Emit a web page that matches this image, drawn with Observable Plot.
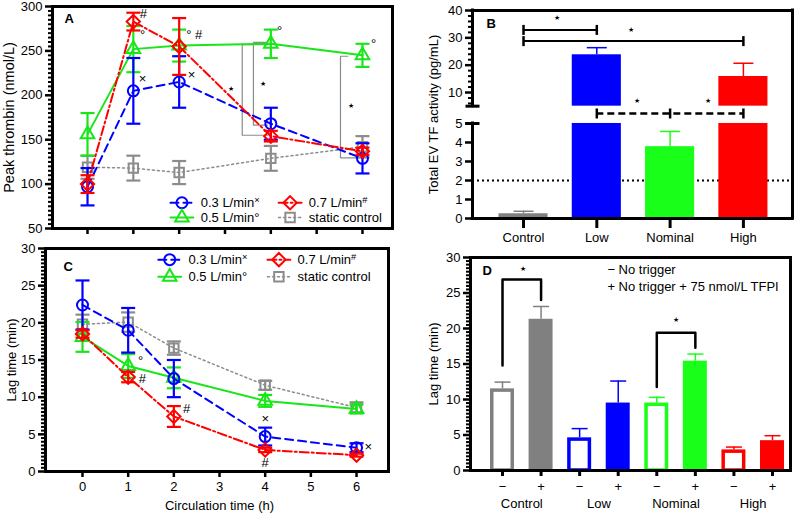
<!DOCTYPE html>
<html><head><meta charset="utf-8">
<script src="https://cdn.jsdelivr.net/npm/d3@7"></script>
<script src="https://cdn.jsdelivr.net/npm/@observablehq/plot@0.6"></script>
<style>
html,body{margin:0;padding:0;background:#fff;}
#fig{position:relative;width:800px;height:513px;overflow:hidden;}
</style></head><body><div id="fig"></div>
<script>
// ---------------- DATA ----------------
const hours = [0, 1, 2, 4, 6];
const hourTicks = [0, 1, 2, 3, 4, 5, 6];

// Panel A: peak thrombin (nmol/L)
const peak03 = [97, 205, 215, 168, 129];
const peak03Err = [21, 37, 29, 18, 17];
const peak05 = [156, 252, 256, 258, 245];
const peak05Err = [24, 26, 18, 16, 13];
const peak07 = [100, 283, 255, 154, 137];
const peak07Err = [10, 10, 32, 6, 4];
const peakStatic = [119, 118, 113, 129, 142];
const peakStaticErr = [13, 14, 13, 14, 12];

// Panel C: lag time (min)
const lag03 = [22.4, 19.0, 12.5, 4.7, 3.2];
const lag03Err = [3.3, 3.0, 2.5, 1.2, 0.6];
const lag05 = [18.1, 14.2, 12.6, 9.5, 8.4];
const lag05Err = [2.0, 1.6, 1.4, 0.8, 0.6];
const lag07 = [18.5, 12.7, 7.4, 2.9, 2.2];
const lag07Err = [0.5, 0.7, 1.4, 0.3, 0.2];
const lagStatic = [19.8, 20.1, 16.6, 11.6, 8.6];
const lagStaticErr = [1.3, 1.3, 0.9, 0.6, 0.7];

const seriesLabels = ["0.3 L/min×", "0.7 L/min#", "0.5 L/min°", "static control"];

// Panel B: total EV TF activity (pg/mL)
const tfCategories = ["Control", "Low", "Nominal", "High"];
const tfValues = [0.25, 23.8, 3.78, 15.85];
const tfErr = [0.13, 2.6, 0.8, 4.85];
const tfThreshold = 2;
const breakLo = 5, breakHi = 5.001;
const tfMajorTicks = [0, 1, 2, 3, 4, 5, 10, 20, 30, 40];

// Panel D: lag time (min)
const lagGroups = ["Control", "Low", "Nominal", "High"];
const lagNoTrigger = [11.5, 4.6, 9.5, 2.9];
const lagNoTriggerErr = [0.95, 1.3, 0.8, 0.4];
const lagTFPI = [21.3, 9.5, 15.4, 4.2];
const lagTFPIErr = [1.8, 3.1, 1.0, 0.7];
const signLabels = ["−", "+"];
const legendDText = ["− No trigger", "+ No trigger + 75 nmol/L TFPI"];

// Annotations (data coordinates)
const annAX = [1.22, 1.2, 2.33, 1.2, 2.27, 4.19, 6.24];
const annAY = [292, 268.6, 268.6, 218, 222.6, 273, 258.5];
const annAText = ["#", "°", "° #", "×", "×", "°", "°"];
const starAX = [3.14, 3.82, 5.76];
const starAY = [207, 212.6, 188];
const bracketsA = [
  [[3.93, 257], [3.376, 257], [3.376, 155], [3.93, 155]],
  [[3.93, 259.5], [3.62, 259.5], [3.62, 166.5], [3.93, 166.5]],
  [[5.68, 244], [5.52, 244], [5.52, 129.6], [5.93, 129.6]]
];
const legAX = [1.81, 4.17, 1.81, 4.17];
const legAY = [79, 79, 62.3, 62.3];

const annCX = [1.27, 1.31, 2.28, 4.0, 4.0, 6.26];
const annCY = [14.9, 12.45, 8.44, 7.1, 1.2, 3.35];
const annCText = ["°", "#", "#", "×", "#", "×"];
const legCX = [1.66, 4.05, 1.66, 4.05];
const legCY = [28.5, 28.5, 26.2, 26.2];

const sigBFrom = [0, 0], sigBTo = [1, 3], sigBY = [32.9, 28.8];
const sigBDashed = [1, 2, 3];
const starBX = [0.46, 1.46, 1.55, 2.52], starBY = [37.4, 33, 7.07, 7.07];

const bracketsD = [
  [[0, 14.8], [0, 26.9], [1, 26.9], [1, 24.0]],
  [[4, 11.75], [4, 19.4], [5, 19.4], [5, 17.3]]
];
const starDX = [0.52, 4.51], starDY = [28.4, 21.2];
const legDX = [2.72, 2.72], legDY = [28.3, 25.8];

// ---------------- HELPERS ----------------
const FONT = '"Liberation Sans", Arial, Helvetica, sans-serif';
const baseStyle = {fontFamily: FONT, fontSize: "13px", background: "transparent", overflow: "visible", color: "black"};
const fig = document.getElementById("fig");
const svgNS = "http://www.w3.org/2000/svg";
const hCap = {draw(ctx, size) { const r = Math.sqrt(size / Math.PI); ctx.moveTo(-r, 0); ctx.lineTo(r, 0); }};
const vCap = {draw(ctx, size) { const r = Math.sqrt(size / Math.PI); ctx.moveTo(0, -r); ctx.lineTo(0, r); }};

function supify(svg) {
  svg.querySelectorAll("text").forEach(t => {
    if (t.textContent.includes("\u26a0")) { t.remove(); return; }
    const m = t.textContent.match(/^(.*L\/min)([×#])$/);
    if (m && t.childElementCount === 0) {
      t.textContent = m[1];
      const ts = document.createElementNS(svgNS, "tspan");
      ts.setAttribute("dy", "-0.45em");
      ts.setAttribute("font-size", "0.72em");
      ts.textContent = m[2];
      t.appendChild(ts);
    }
  });
}
function place(svg, left, top) {
  svg.style.position = "absolute";
  svg.style.left = left + "px";
  svg.style.top = top + "px";
  svg.style.maxWidth = "none";
  fig.appendChild(svg);
  supify(svg);
}
function rows(vals, errs) {
  return hours.map((h, i) => ({x: h, y: vals[i], lo: vals[i] - errs[i], hi: vals[i] + errs[i]}));
}
const styles = [
  {color: "#0000ff", dash: "8,5", width: 2, symbol: "circle", r: 5.5},
  {color: "#ff0000", dash: "9,3,2,3", width: 2, symbol: "diamond2", r: 6},
  {color: "#19e619", dash: null, width: 2, symbol: "triangle2", r: 6.5},
  {color: "#8c8c8c", dash: "2,3", width: 1.5, symbol: "square2", r: 6}
];
function seriesMarks(data, s) {
  return [
    Plot.line(data, {x: "x", y: "y", stroke: s.color, strokeWidth: s.width, strokeDasharray: s.dash}),
    Plot.ruleX(data, {x: "x", y1: "lo", y2: "hi", stroke: s.color, strokeWidth: 2.2}),
    Plot.dot(data, {x: "x", y: "lo", symbol: hCap, r: 7, stroke: s.color, fill: "none", strokeWidth: 2.2}),
    Plot.dot(data, {x: "x", y: "hi", symbol: hCap, r: 7, stroke: s.color, fill: "none", strokeWidth: 2.2}),
    Plot.dot(data, {x: "x", y: "y", symbol: s.symbol, r: s.r, stroke: s.color, fill: "none", strokeWidth: 2})
  ];
}
function legendMarks(xs, ys) {
  return seriesLabels.flatMap((label, i) => {
    const s = styles[i];
    return [
      Plot.line([[xs[i], ys[i]], [xs[i] + 0.5, ys[i]]], {stroke: s.color, strokeWidth: s.width, strokeDasharray: s.dash}),
      Plot.dot([[xs[i] + 0.25, ys[i]]], {symbol: s.symbol, r: s.r, stroke: s.color, fill: "none", strokeWidth: 2}),
      Plot.text([label], {x: xs[i] + 0.66, y: ys[i], textAnchor: "start", fontSize: 13})
    ];
  });
}
function panelLetter(l, dx, dy) {
  return Plot.text([l], {frameAnchor: "top-left", dx, dy, textAnchor: "start", lineAnchor: "middle", fontWeight: "bold", fontSize: 13});
}
function yTitle(t, dx, size = 13) {
  return Plot.text([t], {frameAnchor: "left", rotate: -90, dx, fontSize: size, textAnchor: "middle", lineAnchor: "middle"});
}
const stepRange = (a, b, s, skip) => d3.range(0, Math.round((b - a) / s) + 1).map(k => +(a + k * s).toFixed(3)).filter(v => !skip(v));

// ---------------- PANEL A ----------------
const majorA = [50, 100, 150, 200, 250, 300];
const minorA = stepRange(50, 300, 5, v => v % 50 === 0);
const plotA = Plot.plot({
  width: 400, height: 250, marginLeft: 52, marginRight: 8, marginTop: 6, marginBottom: 22,
  x: {domain: [-0.764, 6.655]},
  y: {domain: [50, 300]},
  style: baseStyle,
  marks: [
    Plot.axisY({ticks: minorA, tickSize: 4, strokeWidth: 2, tickFormat: () => "", label: null}),
    Plot.axisY({ticks: majorA, tickSize: 7, strokeWidth: 2.5, tickPadding: 3, label: null}),
    Plot.axisX({ticks: hourTicks, tickSize: 6, strokeWidth: 2.5, tickFormat: () => "", label: null}),
    ...bracketsA.map(b => Plot.line(b, {stroke: "#8c8c8c", strokeWidth: 1.2})),
    ...seriesMarks(rows(peakStatic, peakStaticErr), styles[3]),
    ...seriesMarks(rows(peak05, peak05Err), styles[2]),
    ...seriesMarks(rows(peak03, peak03Err), styles[0]),
    ...seriesMarks(rows(peak07, peak07Err), styles[1]),
    Plot.text(annAText, {x: (d, i) => annAX[i], y: (d, i) => annAY[i], text: d => d, fontSize: 13}),
    Plot.text(starAX, {x: d => d, y: (d, i) => starAY[i], text: () => "★", fontSize: 7}),
    ...legendMarks(legAX, legAY),
    Plot.frame({strokeWidth: 3}),
    panelLetter("A", 12, 12),
    yTitle("Peak thrombin (nmol/L)", -43, 14.5)
  ]
});
place(plotA, 0, 0);

// ---------------- PANEL C ----------------
const majorC = [0, 5, 10, 15, 20, 25, 30];
const minorC = stepRange(0, 30, 0.5, v => v % 5 === 0);
const plotC = Plot.plot({
  width: 400, height: 269, marginLeft: 45, marginRight: 12, marginTop: 4, marginBottom: 42,
  x: {domain: [-0.81, 6.70]},
  y: {domain: [0, 30]},
  style: baseStyle,
  marks: [
    Plot.axisY({ticks: minorC, tickSize: 4, strokeWidth: 2, tickFormat: () => "", label: null}),
    Plot.axisY({ticks: majorC, tickSize: 7, strokeWidth: 2.5, tickPadding: 3, label: null}),
    Plot.axisX({ticks: hourTicks, tickSize: 6, strokeWidth: 2.5, tickPadding: 4, label: null}),
    ...seriesMarks(rows(lagStatic, lagStaticErr), styles[3]),
    ...seriesMarks(rows(lag05, lag05Err), styles[2]),
    ...seriesMarks(rows(lag03, lag03Err), styles[0]),
    ...seriesMarks(rows(lag07, lag07Err), styles[1]),
    Plot.text(annCText, {x: (d, i) => annCX[i], y: (d, i) => annCY[i], text: d => d, fontSize: 13}),
    ...legendMarks(legCX, legCY),
    Plot.frame({strokeWidth: 3}),
    panelLetter("C", 18, 18),
    yTitle("Lag time (min)", -34),
    Plot.text(["Circulation time (h)"], {x: 3, y: 0, dy: 34, fontSize: 13})
  ]
});
place(plotC, 0, 244);

// ---------------- PANEL B ----------------
// broken y axis: 0–5 at 19 px/unit, a gap, then 5–40 compressed
const gapU = 17.3 / 19, ratioU = 2.733 / 19;
const tB = v => v <= breakLo ? v : breakLo + gapU + (v - breakLo) * ratioU;
// axis marks are not passed through the scale transform, so give them transformed positions
const tickLabelB = new Map(tfMajorTicks.map(v => [tB(v), v]));
const xLB = -0.696, xRB = 3.67;
const tfRows = tfCategories.map((c, i) => ({c, i, v: tfValues[i], e: tfErr[i]}));
const barHalf = 0.335;
const plotB = Plot.plot({
  width: 400, height: 250, marginLeft: 72, marginRight: 8, marginTop: 10, marginBottom: 32,
  x: {domain: [xLB, xRB]},
  y: {domain: [0, tB(40)], transform: tB},
  color: {domain: tfCategories, range: ["#808080", "#0000ff", "#1aff1a", "#ff0000"]},
  style: baseStyle,
  marks: [
    Plot.axisY({ticks: stepRange(6, 40, 2, v => v % 10 === 0).map(tB), tickSize: 4, strokeWidth: 2, tickFormat: () => "", label: null}),
    Plot.axisY({ticks: tfMajorTicks.map(tB), tickSize: 7, strokeWidth: 2.5, tickPadding: 3, tickFormat: t => String(tickLabelB.get(t)), label: null}),
    Plot.axisX({ticks: [0, 1, 2, 3], tickSize: 10, strokeWidth: 3, tickPadding: 4, tickFormat: i => tfCategories[i], label: null}),
    Plot.ruleY([tfThreshold], {x1: xLB, x2: xRB, strokeDasharray: "2,3", strokeWidth: 2}),
    Plot.ruleX(tfRows, {x: "i", y1: "v", y2: d => d.v + d.e, stroke: "c", strokeWidth: 1.5}),
    Plot.dot(tfRows, {x: "i", y: d => d.v + d.e, symbol: hCap, r: 10, stroke: "c", fill: "none", strokeWidth: 1.5}),
    Plot.rect(tfRows, {x1: d => d.i - barHalf, x2: d => d.i + barHalf, y1: 0, y2: d => Math.min(d.v, breakLo), fill: "c"}),
    Plot.rect(tfRows.filter(d => d.v > breakLo), {x1: d => d.i - barHalf, x2: d => d.i + barHalf, y1: breakHi, y2: "v", fill: "c"}),
    // frame pieces with broken left axis
    Plot.ruleY([40, 0], {x1: xLB, x2: xRB, strokeWidth: 3, strokeLinecap: "square"}),
    Plot.ruleX([xRB], {y1: 0, y2: 40, strokeWidth: 3, strokeLinecap: "square"}),
    Plot.ruleX([xLB], {y1: breakHi, y2: 40, strokeWidth: 3, strokeLinecap: "square"}),
    Plot.ruleX([xLB], {y1: 0, y2: breakLo, strokeWidth: 3, strokeLinecap: "square"}),
    Plot.dot([breakLo, breakHi], {x: xLB, y: d => d, symbol: hCap, r: 7, stroke: "black", fill: "none", strokeWidth: 3}),
    // significance
    Plot.ruleY(sigBY, {y: d => d, x1: (d, i) => sigBFrom[i], x2: (d, i) => sigBTo[i], strokeWidth: 2}),
    Plot.dot(sigBY, {x: (d, i) => sigBFrom[i], y: d => d, symbol: vCap, r: 5, stroke: "black", fill: "none", strokeWidth: 2.5}),
    Plot.dot(sigBY, {x: (d, i) => sigBTo[i], y: d => d, symbol: vCap, r: 5, stroke: "black", fill: "none", strokeWidth: 2.5}),
    Plot.ruleY([breakLo], {x1: d3.min(sigBDashed), x2: d3.max(sigBDashed), dy: -10, strokeDasharray: "7,4", strokeWidth: 2.5}),
    Plot.dot(sigBDashed, {x: d => d, y: breakLo, dy: -10, symbol: vCap, r: 5, stroke: "black", fill: "none", strokeWidth: 2.5}),
    Plot.text(starBX, {x: d => d, y: (d, i) => starBY[i], text: () => "★", fontSize: 7}),
    panelLetter("B", 14, 13),
    yTitle("Total EV TF activity (pg/mL)", -39)
  ]
});
place(plotB, 400, 0);

// ---------------- PANEL D ----------------
const rowsD = lagGroups.flatMap((g, gi) => [
  {g, i: gi * 2, sign: 0, v: lagNoTrigger[gi], e: lagNoTriggerErr[gi]},
  {g, i: gi * 2 + 1, sign: 1, v: lagTFPI[gi], e: lagTFPIErr[gi]}
]);
const halfD = 0.311;
const plotD = Plot.plot({
  width: 400, height: 269, marginLeft: 70, marginRight: 10, marginTop: 13, marginBottom: 43,
  x: {domain: [-0.83, 7.467]},
  y: {domain: [0, 30]},
  color: {domain: lagGroups, range: ["#808080", "#0000ff", "#1aff1a", "#ff0000"]},
  style: baseStyle,
  marks: [
    Plot.axisY({ticks: stepRange(0, 30, 0.5, v => v % 5 === 0), tickSize: 4, strokeWidth: 2, tickFormat: () => "", label: null}),
    Plot.axisY({ticks: [0, 5, 10, 15, 20, 25, 30], tickSize: 7, strokeWidth: 2.5, tickPadding: 3, label: null}),
    Plot.axisX({ticks: d3.range(0, 8), tickSize: 6, strokeWidth: 3, tickPadding: 5, tickFormat: i => signLabels[i % 2], label: null}),
    Plot.axisX({ticks: [0.5, 2.5, 4.5, 6.5], tickSize: 0, tickPadding: 28, tickFormat: x => lagGroups[Math.floor(x / 2)], label: null}),
    Plot.ruleX(rowsD, {x: "i", y1: "v", y2: d => d.v + d.e, stroke: "g", strokeWidth: 1.5}),
    Plot.dot(rowsD, {x: "i", y: d => d.v + d.e, symbol: hCap, r: 8, stroke: "g", fill: "none", strokeWidth: 1.5}),
    Plot.rect(rowsD.filter(d => d.sign === 0), {x1: d => d.i - halfD, x2: d => d.i + halfD, y1: 0, y2: "v", fill: "white", stroke: "g", strokeWidth: 3.5, insetLeft: 1.75, insetRight: 1.75, insetTop: 1.75}),
    Plot.rect(rowsD.filter(d => d.sign === 1), {x1: d => d.i - halfD, x2: d => d.i + halfD, y1: 0, y2: "v", fill: "g"}),
    ...bracketsD.map(b => Plot.line(b, {strokeWidth: 2.5})),
    Plot.text(starDX, {x: d => d, y: (d, i) => starDY[i], text: () => "★", fontSize: 7}),
    Plot.text(legendDText, {x: (d, i) => legDX[i], y: (d, i) => legDY[i], text: d => d, textAnchor: "start", fontSize: 13}),
    Plot.frame({strokeWidth: 3}),
    panelLetter("D", 12, 13),
    yTitle("Lag time (min)", -37)
  ]
});
place(plotD, 400, 244);
</script></body></html>
